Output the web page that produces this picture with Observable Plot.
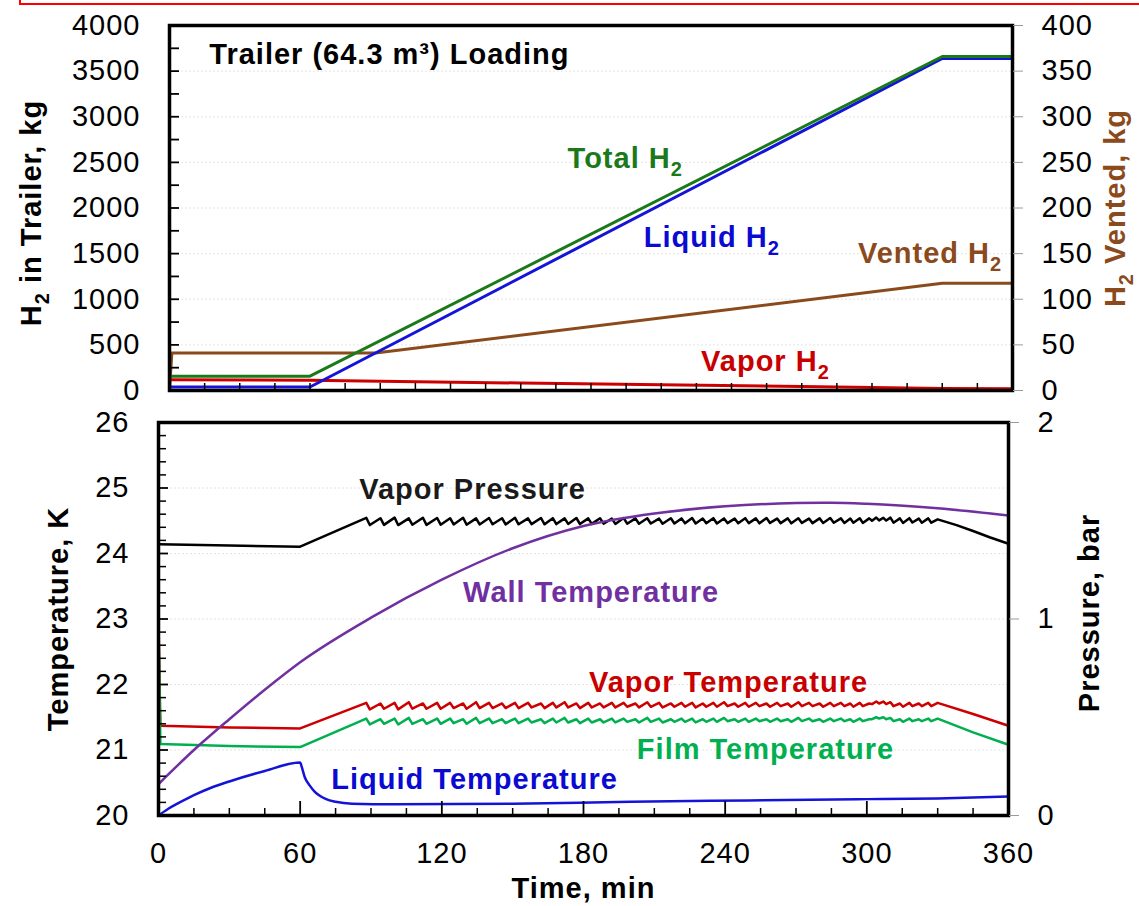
<!DOCTYPE html>
<html><head><meta charset="utf-8">
<script src="https://cdn.jsdelivr.net/npm/d3@7"></script>
<script src="https://cdn.jsdelivr.net/npm/@observablehq/plot@0.6"></script>
<style>
html,body{margin:0;padding:0;background:#fff;}
#fig{position:relative;width:1139px;height:906px;overflow:hidden;background:#fff;}
#fig svg{position:absolute;left:0;overflow:visible;}
#fig svg text{letter-spacing:1px;}
#redbox{position:absolute;left:19px;top:-20px;width:1200px;height:21px;border:2px solid #ff0000;}
</style></head>
<body><div id="fig"><div id="redbox"></div></div>
<script>
// ---------------- DATA ----------------
// Top panel: hydrogen mass in trailer (kg), time in minutes
const liquidH2 = [[0,38],[60,38],[330,3638],[360,3638]];
const totalH2  = [[0,157],[60,157],[330,3660],[360,3660]];
const vaporH2  = [[0,118],[60,113],[90,102],[150,82],[210,63],[270,43],[330,22],[360,20]];
const ventedH2 = [[0,0],[1,41],[88,41],[330,117.6],[360,117.6]]; // right axis, kg

const h2Ticks = [0,500,1000,1500,2000,2500,3000,3500,4000];
const h2MinorTicks = [250,750,1250,1750,2250,2750,3250,3750];
const ventTicks = [0,50,100,150,200,250,300,350,400];
const timeTicks = [0,60,120,180,240,300,360];
const timeMinorTicks = [15,30,45,75,90,105,135,150,165,195,210,225,255,270,285,315,330,345];

// Bottom panel: temperatures (K) and pressure (bar)
const liquidTemp = [[0,20.0],[4,20.1],[8,20.18],[15,20.31],[22,20.42],[30,20.52],[45,20.68],[60,20.81],[60.6,20.75],[62,20.58],[64,20.46],[66,20.37],[68,20.31],[71,20.25],[75,20.21],[82,20.18],[100,20.17],[150,20.18],[200,20.21],[250,20.23],[300,20.25],[330,20.26],[360,20.29]];
const wallTemp = [[0,20.48],[15,21.0],[30,21.47],[45,21.92],[60,22.34],[90,23.02],[120,23.6],[150,24.08],[180,24.42],[210,24.61],[240,24.72],[270,24.77],[285,24.775],[300,24.76],[330,24.69],[360,24.58]];

const pressurePre = [[0,1.380],[30,1.374],[60,1.368]];
const pressurePost = [[338,1.478],[345,1.448],[352,1.416],[360,1.383]];
const vaporTempPre = [[0,22.95],[0.8,21.37],[30,21.345],[60,21.33]];
const vaporTempPost = [[345,21.55],[360,21.37]];
const filmTempPre = [[0,22.88],[0.8,21.09],[30,21.06],[60,21.045]];
const filmTempPost = [[345,21.27],[360,21.08]];

// vent-cycle oscillations (peak / trough times, min)
const sawPeakTimes = [88,94,100,106,112,118,123.5,129,134.5,140,145.5,151,156.5,162,167,172,177,182,187,192,197,202,207,212,217,221.5,226,230.5,235,239.5,244,248.5,253,257.5,262,266.5,271,275.5,280,284.5,289,293,297,301,304,307,310,314,318,322,326,330];
const sawTroughTimes = [89.5,95.5,101.5,107.5,113.5,119.5,125,130.5,136,141.5,147,152.5,158,163.5,168.5,173.5,178.5,183.5,188.5,193.5,198.5,203.5,208.5,213.5,218.5,223,227.5,232,236.5,241,245.5,250,254.5,259,263.5,268,272.5,277,281.5,286,290.5,294.3,298.3,302.2,305.2,308.2,311.3,315.3,319.3,323.3,327.3];

const pressPeaks = [1.515,1.513,1.516,1.512,1.515,1.514,1.513,1.515,1.512,1.514,
  1.513,1.515,1.512,1.514,1.513,1.512,1.514,1.512,1.513,1.511,
  1.514,1.512,1.513,1.511,1.513,1.512,1.514,1.511,1.513,1.512,
  1.511,1.513,1.512,1.514,1.511,1.512,1.513,1.511,1.512,1.514,
  1.512,1.511,1.513,1.512,1.516,1.515,1.516,1.512,1.513,1.511,
  1.512,1.507];
const pressTroughs = [1.478,1.479,1.478,1.480,1.479,1.480,1.481,1.480,1.481,1.482,
  1.481,1.482,1.483,1.482,1.483,1.484,1.483,1.484,1.485,1.484,
  1.485,1.485,1.486,1.485,1.486,1.487,1.486,1.487,1.486,1.488,
  1.487,1.488,1.487,1.489,1.488,1.487,1.489,1.488,1.489,1.490,
  1.489,1.490,1.489,1.500,1.502,1.501,1.490,1.489,1.491,1.490,
  1.490];
const vaporTPeaks = [21.72,21.71,21.72,21.73,21.71,21.72,21.72,21.71,21.73,21.72,
  21.71,21.72,21.72,21.71,21.72,21.73,21.71,21.72,21.71,21.72,
  21.72,21.71,21.73,21.72,21.71,21.72,21.72,21.71,21.72,21.73,
  21.71,21.72,21.72,21.71,21.72,21.71,21.73,21.72,21.71,21.72,
  21.72,21.71,21.72,21.71,21.74,21.74,21.73,21.71,21.72,21.71,
  21.72,21.72];
const vaporTTroughs = [21.62,21.63,21.62,21.63,21.63,21.63,21.64,21.63,21.64,21.64,
  21.64,21.64,21.65,21.64,21.65,21.65,21.64,21.65,21.65,21.65,
  21.66,21.65,21.66,21.65,21.66,21.66,21.65,21.66,21.66,21.67,
  21.66,21.66,21.67,21.66,21.67,21.66,21.67,21.67,21.66,21.67,
  21.67,21.66,21.67,21.70,21.71,21.70,21.67,21.66,21.67,21.67,
  21.67];
const filmTPeaks = [21.48,21.47,21.48,21.49,21.47,21.48,21.48,21.47,21.49,21.48,
  21.47,21.48,21.48,21.47,21.48,21.49,21.47,21.48,21.47,21.48,
  21.48,21.47,21.49,21.48,21.47,21.48,21.48,21.47,21.48,21.49,
  21.47,21.48,21.48,21.47,21.48,21.47,21.49,21.48,21.47,21.48,
  21.48,21.47,21.48,21.47,21.50,21.50,21.49,21.47,21.48,21.47,
  21.48,21.48];
const filmTTroughs = [21.39,21.40,21.39,21.40,21.40,21.40,21.41,21.40,21.41,21.41,
  21.41,21.41,21.42,21.41,21.42,21.42,21.41,21.42,21.42,21.42,
  21.43,21.42,21.43,21.42,21.43,21.43,21.42,21.43,21.43,21.44,
  21.43,21.43,21.44,21.43,21.44,21.43,21.44,21.44,21.43,21.44,
  21.44,21.43,21.44,21.47,21.48,21.47,21.44,21.43,21.44,21.44,
  21.44];

const tempTicks = [20,21,22,23,24,25,26];
const tempMinorTicks = [20.2,20.4,20.6,20.8,21.2,21.4,21.6,21.8,22.2,22.4,22.6,22.8,23.2,23.4,23.6,23.8,24.2,24.4,24.6,24.8,25.2,25.4,25.6,25.8];
const pressureTicks = [0,1,2];

// Series labels (text, time, value, colour)
const topLabels = [
  {text:"Trailer (64.3 m³) Loading", t:17, v:3682, c:"#000000"},
  {text:"Total H₂", t:170, v:2542, c:"#1a7a1a"},
  {text:"Liquid H₂", t:202.5, v:1677, c:"#0a0ad2"},
  {text:"Vented H₂", t:294, v:1501, c:"#8b4a1b"},
  {text:"Vapor H₂", t:227, v:318, c:"#c80000"}
];
const bottomLabels = [
  {text:"Vapor Pressure", t:85, v:24.98, c:"#1a1a1a"},
  {text:"Wall Temperature", t:129, v:23.40, c:"#7030a0"},
  {text:"Vapor Temperature", t:182.3, v:22.02, c:"#c80000"},
  {text:"Film Temperature", t:202.6, v:21.01, c:"#00b050"},
  {text:"Liquid Temperature", t:73.2, v:20.55, c:"#0a0ad2"}
];

// ---------------- BUILD ----------------
const W = 1139;
const FONT = '"Liberation Sans", Arial, sans-serif';
const FS = 29;
const toObj = a => a.map(([t,v]) => ({t, v}));
function withSaw(pre, peaks, troughs, post){
  const out = toObj(pre);
  sawPeakTimes.forEach((t,i) => {
    out.push({t, v: peaks[i]});
    if (i < troughs.length) out.push({t: sawTroughTimes[i], v: troughs[i]});
  });
  return out.concat(toObj(post));
}
const NS = "http://www.w3.org/2000/svg";
function fixSubs(svg){
  svg.querySelectorAll("text").forEach(t => {
    const s = t.textContent;
    if (!s.includes("₂")) return;
    const parts = s.split("₂");
    while (t.firstChild) t.removeChild(t.firstChild);
    parts.forEach((p,i) => {
      if (i > 0) {
        const sub = document.createElementNS(NS, "tspan");
        sub.setAttribute("dy", "8"); sub.setAttribute("font-size", "20px");
        sub.textContent = "2"; t.appendChild(sub);
      }
      if (p) {
        const tp = document.createElementNS(NS, "tspan");
        if (i > 0) tp.setAttribute("dy", "-8");
        tp.textContent = p; t.appendChild(tp);
      }
    });
  });
}
const baseStyle = {fontFamily: FONT, fontSize: FS + "px", background: "transparent", overflow: "visible", color: "black"};

// ---- top panel ----
const tH = 405, tMT = 25, tMB = 15, tML = 169, tMR = 127;
const tIW = W - tML - tMR, tIH = tH - tMT - tMB;
const h2Domain = [0, 4000], ventDomain = [0, 400];
const ventFactor = h2Domain[1] / ventDomain[1];

const topPlot = Plot.plot({
  width: W, height: tH,
  marginTop: tMT, marginBottom: tMB, marginLeft: tML, marginRight: tMR,
  style: baseStyle,
  x: {domain: [0, 360], axis: null},
  y: {domain: h2Domain, axis: null},
  marks: [
    Plot.ruleY(h2Ticks.slice(1, -1), {y: d => d, stroke: "#e4e4e4", strokeDasharray: "2,2"}),
    Plot.line(toObj(ventedH2), {x: "t", y: d => d.v * ventFactor, stroke: "#8b4a1b", strokeWidth: 3}),
    Plot.line(toObj(vaporH2), {x: "t", y: "v", stroke: "#cc0000", strokeWidth: 3}),
    Plot.line(toObj(liquidH2), {x: "t", y: "v", stroke: "#1414d8", strokeWidth: 3}),
    Plot.line(toObj(totalH2), {x: "t", y: "v", stroke: "#1a7a1a", strokeWidth: 3}),
    Plot.tickY(h2Ticks.concat(h2MinorTicks), {y: d => d, insetRight: tIW - 10, stroke: "black", strokeWidth: 1.8}),
    Plot.tickX(timeMinorTicks.concat([60,120,180,240,300]), {x: d => d, insetTop: tIH - 7, stroke: "black", strokeWidth: 1.5}),
    Plot.frame({stroke: "black", strokeWidth: 3.5}),
    Plot.axisY(h2Ticks, {anchor: "left", tickSize: 0, tickPadding: 29, tickFormat: d => `${d}`, label: null}),
    Plot.axisY(ventTicks.map(v => v * ventFactor), {anchor: "right", tickSize: 10, tickPadding: 19, stroke: "#9a9a9a", fill: "black", tickFormat: d => `${d / ventFactor}`, label: null}),
    Plot.text(["H₂ in Trailer, kg"], {text: d => d, frameAnchor: "left", textAnchor: "middle", lineAnchor: "middle", rotate: -90, dx: -138, dy: 5, fontWeight: "bold", fill: "black"}),
    Plot.text(["H₂ Vented, kg"], {text: d => d, frameAnchor: "right", textAnchor: "middle", lineAnchor: "middle", rotate: -90, dx: 103, fontWeight: "bold", fill: "#8b4a1b"}),
    Plot.text(topLabels, {x: "t", y: "v", text: "text", fill: "c", textAnchor: "start", lineAnchor: "middle", fontWeight: "bold"})
  ]
});
topPlot.style.top = "0px";
fixSubs(topPlot);
document.getElementById("fig").append(topPlot);

// ---- bottom panel ----
const bTop = 405, bH = 906 - bTop, bMT = 17, bMB = 91, bML = 158, bMR = 131;
const bIW = W - bML - bMR, bIH = bH - bMT - bMB;
const tempDomain = [20, 26], pressDomain = [0, 2];
const p2T = p => tempDomain[0] + (p - pressDomain[0]) * (tempDomain[1] - tempDomain[0]) / (pressDomain[1] - pressDomain[0]);

const bottomPlot = Plot.plot({
  width: W, height: bH,
  marginTop: bMT, marginBottom: bMB, marginLeft: bML, marginRight: bMR,
  style: baseStyle,
  x: {domain: [0, 360], axis: null},
  y: {domain: tempDomain, axis: null},
  marks: [
    Plot.ruleY(tempTicks.slice(1, -1), {y: d => d, stroke: "#e4e4e4", strokeDasharray: "2,2"}),
    Plot.line(withSaw(pressurePre, pressPeaks, pressTroughs, pressurePost), {x: "t", y: d => p2T(d.v), stroke: "black", strokeWidth: 2.5}),
    Plot.line(withSaw(vaporTempPre, vaporTPeaks, vaporTTroughs, vaporTempPost), {x: "t", y: "v", stroke: "#cc0000", strokeWidth: 2.5}),
    Plot.line(withSaw(filmTempPre, filmTPeaks, filmTTroughs, filmTempPost), {x: "t", y: "v", stroke: "#00b050", strokeWidth: 2.5}),
    Plot.line(toObj(liquidTemp), {x: "t", y: "v", stroke: "#1414d8", strokeWidth: 2.5, curve: "monotone-x"}),
    Plot.line(toObj(wallTemp), {x: "t", y: "v", stroke: "#7030a0", strokeWidth: 2.5, curve: "monotone-x"}),
    Plot.tickY(tempMinorTicks, {y: d => d, insetRight: bIW - 8, stroke: "black", strokeWidth: 1.5}),
    Plot.tickY(tempTicks, {y: d => d, insetRight: bIW - 10, stroke: "black", strokeWidth: 1.8}),
    Plot.tickX(timeMinorTicks, {x: d => d, insetTop: bIH - 7, stroke: "black", strokeWidth: 1.5}),
    Plot.tickX(timeTicks.slice(1, -1), {x: d => d, insetTop: bIH - 14, stroke: "black", strokeWidth: 1.8}),
    Plot.frame({stroke: "black", strokeWidth: 3.5}),
    Plot.axisY(tempTicks, {anchor: "left", tickSize: 0, tickPadding: 29, tickFormat: d => `${d}`, label: null}),
    Plot.axisY(pressureTicks.map(p2T), {anchor: "right", tickSize: 10, tickPadding: 19, stroke: "#9a9a9a", fill: "black", tickFormat: (d, i) => `${pressureTicks[i]}`, label: null}),
    Plot.axisX(timeTicks, {anchor: "bottom", tickSize: 0, tickPadding: 27, tickFormat: d => `${d}`, label: null}),
    Plot.text(["Temperature, K"], {text: d => d, frameAnchor: "left", textAnchor: "middle", lineAnchor: "middle", rotate: -90, dx: -100, fontWeight: "bold", fill: "black"}),
    Plot.text(["Pressure, bar"], {text: d => d, frameAnchor: "right", textAnchor: "middle", lineAnchor: "middle", rotate: -90, dx: 81, dy: -6, fontWeight: "bold", fill: "black"}),
    Plot.text(["Time, min"], {text: d => d, frameAnchor: "bottom", textAnchor: "middle", lineAnchor: "middle", dy: 73, fontWeight: "bold", fill: "black"}),
    Plot.text(bottomLabels, {x: "t", y: "v", text: "text", fill: "c", textAnchor: "start", lineAnchor: "middle", fontWeight: "bold"})
  ]
});
bottomPlot.style.top = bTop + "px";
fixSubs(bottomPlot);
document.getElementById("fig").append(bottomPlot);
</script></body></html>
